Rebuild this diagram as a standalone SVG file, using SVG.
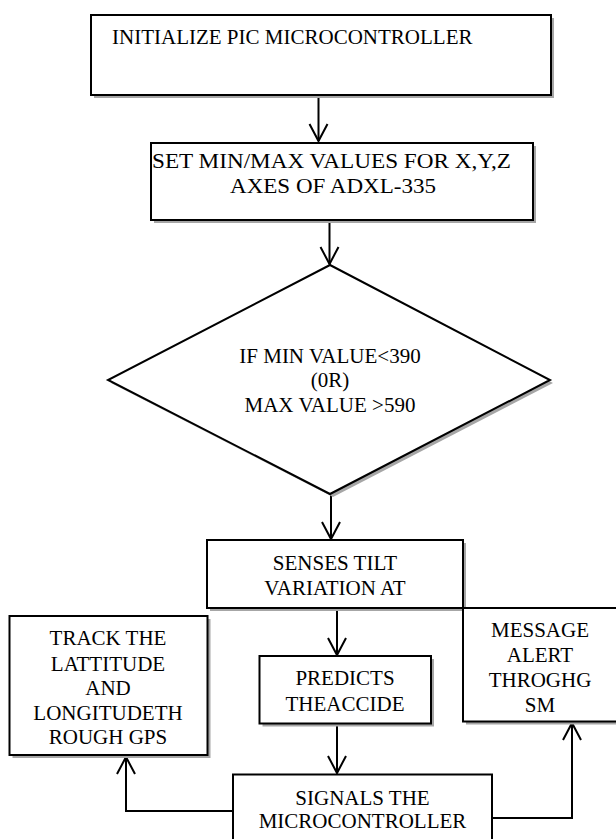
<svg xmlns="http://www.w3.org/2000/svg" width="616" height="839" viewBox="0 0 616 839">
<style>
.box{fill:#fff;stroke:#000;stroke-width:2}
.sh{fill:#a6a6a6;stroke:none}
.t{font-family:"Liberation Serif","Times New Roman",serif;font-size:21px;fill:#000}
.c{text-anchor:middle}
.ln{fill:none;stroke:#000;stroke-width:2}
</style>
<defs>
<marker id="ah" viewBox="-20 -12 22 24" refX="0" refY="0" markerWidth="22" markerHeight="24" markerUnits="userSpaceOnUse" orient="auto" overflow="visible">
<path d="M-17,-9 L0,0 L-17,9" fill="none" stroke="#000" stroke-width="2"/>
</marker>
</defs>
<rect width="616" height="839" fill="#fff"/>
<g id="connectors">
<line class="ln" x1="318.5" y1="95" x2="318.5" y2="141" marker-end="url(#ah)"/>
<line class="ln" x1="329.5" y1="220" x2="329.5" y2="264" marker-end="url(#ah)"/>
<line class="ln" x1="331" y1="494" x2="331" y2="539" marker-end="url(#ah)"/>
<line class="ln" x1="337" y1="608" x2="337" y2="655" marker-end="url(#ah)"/>
<line class="ln" x1="337" y1="723" x2="337" y2="773" marker-end="url(#ah)"/>
<polyline class="ln" points="235,811 126,811 126,757" marker-end="url(#ah)"/>
<polyline class="ln" points="487,818 572,818 572,723" marker-end="url(#ah)"/>
</g>
<g id="n1">
<rect class="sh" x="94" y="18" width="460" height="80"/>
<rect class="box" x="91" y="15" width="460" height="80"/>
<text class="t" x="112" y="44">INITIALIZE PIC MICROCONTROLLER</text>
</g>
<g id="n2">
<rect class="sh" x="154" y="146" width="382" height="77"/>
<rect class="box" x="151" y="143" width="382" height="77"/>
<text class="t" x="152" y="168" textLength="359" lengthAdjust="spacingAndGlyphs">SET MIN/MAX VALUES FOR X,Y,Z</text>
<text class="t c" x="333" y="193" textLength="206" lengthAdjust="spacingAndGlyphs">AXES OF ADXL-335</text>
</g>
<g id="n3">
<polygon class="sh" points="333,268 553,383 333,497 111,383"/>
<polygon class="box" points="330,265 550,380 330,494 108,380"/>
<text class="t c" x="330" y="363">IF MIN VALUE&lt;390</text>
<text class="t c" x="330" y="387">(0R)</text>
<text class="t c" x="330" y="412">MAX VALUE &gt;590</text>
</g>
<g id="n4">
<rect class="sh" x="210" y="543" width="256" height="68"/>
<rect class="box" x="207" y="540" width="256" height="68"/>
<text class="t c" x="335" y="570">SENSES TILT</text>
<text class="t c" x="335" y="595">VARIATION AT</text>
</g>
<g id="n5">
<rect class="sh" x="466" y="611" width="160" height="113.5"/>
<rect class="box" x="463" y="608" width="160" height="113.5"/>
<text class="t c" x="540" y="637">MESSAGE</text>
<text class="t c" x="540" y="662">ALERT</text>
<text class="t c" x="540" y="687">THROGHG</text>
<text class="t c" x="540" y="712">SM</text>
</g>
<g id="n6">
<rect class="sh" x="12.5" y="619" width="198" height="139"/>
<rect class="box" x="9.5" y="616" width="198" height="139"/>
<text class="t c" x="108" y="645">TRACK THE</text>
<text class="t c" x="108" y="670.5">LATTITUDE</text>
<text class="t c" x="108" y="695">AND</text>
<text class="t c" x="108" y="719.5">LONGITUDETH</text>
<text class="t c" x="108" y="744">ROUGH GPS</text>
</g>
<g id="n7">
<rect class="sh" x="262.5" y="659" width="171.5" height="67.5"/>
<rect class="box" x="259.5" y="656" width="171.5" height="67.5"/>
<text class="t c" x="345" y="685">PREDICTS</text>
<text class="t c" x="345" y="710.5">THEACCIDE</text>
</g>
<g id="n8">
<rect class="box" x="233" y="774.5" width="259" height="80"/>
<text class="t c" x="362.5" y="805">SIGNALS THE</text>
<text class="t c" x="362.5" y="828">MICROCONTROLLER</text>
</g>
</svg>
